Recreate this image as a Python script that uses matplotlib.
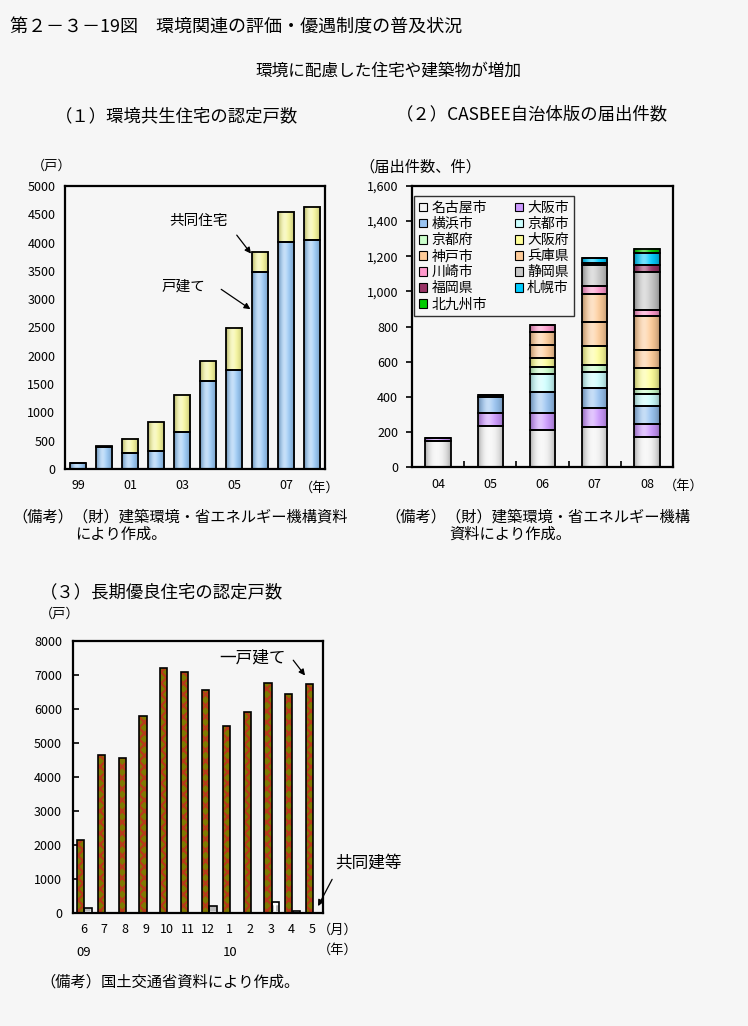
import numpy as np
import matplotlib
matplotlib.use('Agg')
import matplotlib.pyplot as plt
import matplotlib.colors as mcolors
from matplotlib.patches import Patch

plt.rcParams['font.family'] = ['Noto Sans CJK JP', 'DejaVu Sans']
plt.rcParams['hatch.linewidth'] = 1.6

# (1) 環境共生住宅の認定戸数
years1 = ['99', '00', '01', '02', '03', '04', '05', '06', '07', '08']
year_labels1 = ['99', '', '01', '', '03', '', '05', '', '07', '']
kodate1 = [100, 395, 276, 323, 658, 1563, 1751, 3478, 4007, 4042]
kyodo1 = [0, 12, 253, 500, 658, 341, 746, 359, 535, 588]

# (2) CASBEE自治体版の届出件数
years2 = ['04', '05', '06', '07', '08']
cities = ['名古屋市', '大阪市', '横浜市', '京都市', '京都府', '大阪府', '神戸市',
          '兵庫県', '川崎市', '静岡県', '福岡県', '札幌市', '北九州市']
nagoya = [150, 232, 209, 228, 171]
osaka_c = [17, 73, 96, 108, 72]
yokohama = [0, 93, 120, 112, 102]
kyoto_c = [0, 12, 102, 93, 69]
kyoto_p = [0, 0, 40, 42, 30]
osaka_p = [0, 0, 55, 104, 118]
kobe = [0, 0, 72, 137, 104]
hyogo = [0, 0, 76, 159, 192]
kawasaki = [0, 0, 40, 45, 34]
shizuoka = [0, 0, 0, 120, 218]
fukuoka = [0, 0, 0, 15, 39]
sapporo = [0, 0, 0, 25, 72]
kitakyushu = [0, 0, 0, 0, 23]
city_values = [nagoya, osaka_c, yokohama, kyoto_c, kyoto_p, osaka_p, kobe,
               hyogo, kawasaki, shizuoka, fukuoka, sapporo, kitakyushu]
city_colors = ['#F4F4F4', '#CC99FF', '#99C4F2', '#CCFFFF', '#CCFFCC', '#FFFF99',
               '#FFCC99', '#FFCC99', '#FF99CC', '#C8C8C8', '#993366', '#00CCFF',
               '#00CC00']

# (3) 長期優良住宅の認定戸数
months3 = ['6', '7', '8', '9', '10', '11', '12', '1', '2', '3', '4', '5']
ikkodate3 = [2160, 4640, 4550, 5790, 7200, 7090, 6555, 5495, 5905, 6760, 6440, 6730]
kyodo3 = [150, 0, 0, 0, 0, 0, 215, 0, 0, 335, 60, 0]

W, H = 748, 1026
BG = '#F6F6F6'
fig = plt.figure(figsize=(W / 100, H / 100), dpi=100, facecolor=BG)


def px_axes(l, t, r, b):
    return fig.add_axes([l / W, 1 - b / H, (r - l) / W, (b - t) / H], facecolor=BG)


def ftext(x, y, s, size=9.5, ha='left', va='center'):
    fig.text(x / W, 1 - y / H, s, fontsize=size, ha=ha, va=va)


def shade(ax, bars, color):
    # cylinder-like shading as in the original charts
    base = np.array(mcolors.to_rgb(color))
    t = np.linspace(0, 1, 40)
    bump = np.exp(-((t - 0.38) / 0.22) ** 2)
    edge = 0.62 + 0.38 * np.sin(np.pi * t) ** 0.5
    rgb = base[None, :] * edge[:, None]
    rgb = rgb + (1 - rgb) * 0.45 * bump[:, None]
    img = np.clip(rgb, 0, 1)[None, :, :]
    for r in bars:
        x0, y0 = r.get_xy()
        w, h = r.get_width(), r.get_height()
        if h <= 0:
            continue
        ax.imshow(img, extent=[x0, x0 + w, y0, y0 + h], aspect='auto',
                  interpolation='bilinear', zorder=2.5)


def style_axes(ax):
    for s in ax.spines.values():
        s.set_linewidth(1.6)
        s.set_color('black')
    ax.tick_params(labelsize=9)


arrow = dict(arrowstyle='-|>', color='black', lw=0.9, mutation_scale=9)

# titles
ftext(10, 28, '第２－３－19図　環境関連の評価・優遇制度の普及状況', size=13)
ftext(388, 71, '環境に配慮した住宅や建築物が増加', size=12, ha='center')
ftext(55, 116, '（１）環境共生住宅の認定戸数', size=12.5)
ftext(396, 114, '（２）CASBEE自治体版の届出件数', size=12.5)

# ---- chart 1
ax1 = px_axes(65, 186, 325, 469)
x1 = np.arange(len(years1))
b_k = ax1.bar(x1, kodate1, width=0.64, color='#99C8F5', zorder=2)
b_j = ax1.bar(x1, kyodo1, width=0.64, bottom=kodate1, color='#FFFF99', zorder=2)
shade(ax1, b_k, '#99C8F5')
shade(ax1, b_j, '#F5F59A')
ax1.bar(x1, kodate1, width=0.64, fill=False, edgecolor='black', lw=1.3, zorder=3)
ax1.bar(x1, kyodo1, width=0.64, bottom=kodate1, fill=False, edgecolor='black', lw=1.3, zorder=3)
ax1.set_xlim(-0.5, 9.5)
ax1.set_ylim(0, 5000)
ax1.set_yticks(range(0, 5001, 500))
ax1.set_xticks(x1)
ax1.set_xticklabels(year_labels1)
ax1.tick_params(axis='both', length=0, pad=7)
style_axes(ax1)
ax1.annotate('', xy=(6.72, 3766), xytext=(6.04, 4171), arrowprops=arrow)
ax1.annotate('', xy=(6.72, 2796), xytext=(5.42, 3202), arrowprops=arrow)
ftext(199, 221, '共同住宅', size=10.5, ha='center')
ftext(183, 287, '戸建て', size=10.5, ha='center')
ftext(52, 166, '（戸）', size=9.5, ha='center')
ftext(320, 488, '（年）', size=9.5, ha='center')

# ---- chart 2
ax2 = px_axes(412, 186, 673, 467)
x2 = np.arange(len(years2))
bottom = np.zeros(len(years2))
handles = []
for name, vals, col in zip(cities, city_values, city_colors):
    bars = ax2.bar(x2, vals, width=0.49, bottom=bottom, color=col, zorder=2)
    shade(ax2, bars, col)
    ax2.bar(x2, vals, width=0.49, bottom=bottom, fill=False, edgecolor='black',
            lw=1.3, zorder=3)
    bottom = bottom + np.array(vals)
    handles.append(Patch(facecolor=col, edgecolor='black', lw=0.8, label=name))
ax2.set_xlim(-0.5, 4.5)
ax2.set_ylim(0, 1600)
ax2.set_yticks(range(0, 1601, 200))
ax2.set_yticklabels([f'{v:,}' for v in range(0, 1601, 200)])
ax2.set_xticks(x2)
ax2.set_xticklabels(years2)
ax2.set_xticks(np.arange(0.5, 4.5, 1), minor=True)
ax2.tick_params(axis='x', which='major', length=0, pad=8)
ax2.tick_params(axis='x', which='minor', direction='in', length=4, width=1.2)
ax2.tick_params(axis='y', direction='out', length=4, width=1.2, pad=6)
style_axes(ax2)
order = [0, 2, 4, 6, 8, 10, 12, 1, 3, 5, 7, 9, 11]
leg = fig.legend([handles[i] for i in order], [cities[i] for i in order], ncol=2,
                 loc='upper left', bbox_to_anchor=(414 / W, 1 - 196 / H),
                 fontsize=10, frameon=True, fancybox=False, edgecolor='black',
                 facecolor=BG, handlelength=0.6, handleheight=0.6, handletextpad=0.3,
                 columnspacing=2.0, labelspacing=0.15, borderpad=0.35, borderaxespad=0)
leg.get_frame().set_linewidth(1.0)
ftext(420, 167, '（届出件数、件）', size=11, ha='center')
ftext(684, 486, '（年）', size=9.5, ha='center')

# notes
ftext(12, 517, '（備考）（財）建築環境・省エネルギー機構資料', size=11)
ftext(75, 534, 'により作成。', size=11)
ftext(385, 517, '（備考）（財）建築環境・省エネルギー機構', size=11)
ftext(449, 534, '資料により作成。', size=11)

# ---- chart 3
ftext(40, 592, '（３）長期優良住宅の認定戸数', size=12.5)
ftext(60, 614, '（戸）', size=9.5, ha='center')
ax3 = px_axes(73, 641, 323, 913)
x3 = np.arange(len(months3))
ax3.bar(x3 - 0.14, ikkodate3, width=0.34, color='#7F7A00', edgecolor='#B8391A',
        hatch='xxx', lw=0, zorder=2)
ax3.bar(x3 - 0.14, ikkodate3, width=0.34, fill=False, edgecolor='black', lw=1.2, zorder=3)
ax3.bar(x3 + 0.22, kyodo3, width=0.34, color='#B8B8B8', edgecolor='white',
        hatch='-+', lw=0, zorder=2)
ax3.bar(x3 + 0.22, kyodo3, width=0.34, fill=False, edgecolor='black', lw=1.2, zorder=3)
ax3.set_xlim(-0.5, 11.5)
ax3.set_ylim(0, 8000)
ax3.set_yticks(range(0, 8001, 1000))
ax3.set_xticks(x3)
ax3.set_xticklabels(months3)
ax3.tick_params(axis='x', length=0, pad=7)
ax3.tick_params(axis='y', direction='in', length=4, width=1.2, pad=8)
style_axes(ax3)
ax3.annotate('', xy=(10.72, 6920), xytext=(9.99, 7500), arrowprops=arrow)
ax3.annotate('', xy=(11.2, 130), xytext=(12.0, 1062), annotation_clip=False,
             arrowprops=arrow)
ftext(253, 658, '一戸建て', size=12, ha='center')
ftext(368, 863, '共同建等', size=12, ha='center')
ftext(84, 952, '09', size=9.5, ha='center')
ftext(230, 952, '10', size=9.5, ha='center')
ftext(338, 930, '（月）', size=9.5, ha='center')
ftext(338, 950, '（年）', size=9.5, ha='center')
ftext(40, 982, '（備考）国土交通省資料により作成。', size=11)

fig.savefig('out.png', dpi=100, facecolor=BG)
